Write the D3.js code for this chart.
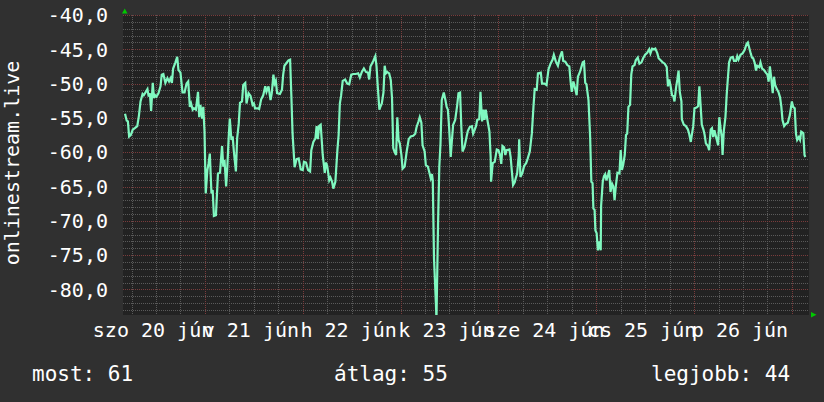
<!DOCTYPE html>
<html>
<head>
<meta charset="utf-8">
<script src="https://cdn.jsdelivr.net/npm/d3@7"></script>
<style>
html, body { margin: 0; padding: 0; background: #303030; }
svg { display: block; }
text { font-family: "DejaVu Sans Mono", monospace; font-size: 20px; fill: #ffffff; }
.legend text { font-size: 21px; }
</style>
</head>
<body>
<script>
// hours since jún 20 00:00, and the measured value at that moment
const hours = [
    4.4, 4.8, 5.1, 5.4, 5.8, 6.3, 6.8, 7.4, 7.8, 8.2, 8.7, 9.0, 9.5, 9.9, 10.2, 10.5, 10.8, 11.2, 11.5, 11.8,
    12.1, 12.6, 13.1, 13.4, 13.8, 14.3, 14.8, 15.2, 15.6, 15.9, 16.2, 16.7, 17.2, 17.5, 18.0, 18.5, 19.0, 19.5, 19.9, 20.3,
    20.6, 21.0, 21.3, 21.8, 22.3, 22.6, 22.9, 23.3, 23.6, 23.9, 24.2, 24.6, 24.9, 25.2, 25.6, 25.9, 26.2, 26.7, 27.2, 27.7,
    28.2, 28.5, 28.8, 29.2, 29.5, 29.8, 30.1, 30.5, 30.8, 31.1, 31.6, 31.9, 32.3, 32.6, 33.1, 33.4, 33.9, 34.2, 34.7, 35.2,
    35.7, 36.0, 36.3, 37.0, 37.3, 37.8, 38.3, 38.8, 39.1, 39.6, 40.1, 40.4, 40.8, 41.1, 41.4, 41.7, 42.4, 42.9, 43.2, 43.5,
    44.0, 44.5, 44.9, 45.2, 45.5, 46.0, 46.5, 47.0, 47.5, 48.0, 48.3, 48.8, 49.3, 49.8, 50.1, 50.6, 51.1, 51.4, 51.7, 52.0,
    52.4, 52.9, 53.4, 53.7, 54.0, 54.5, 54.8, 55.2, 55.5, 56.0, 56.5, 56.8, 57.1, 57.4, 57.8, 58.4, 58.9, 59.4, 59.9, 60.4,
    61.0, 61.6, 62.0, 62.5, 63.0, 63.5, 64.0, 64.3, 64.6, 65.3, 65.8, 66.1, 66.4, 66.8, 67.1, 67.4, 67.8, 68.1, 68.4, 68.7,
    69.2, 69.6, 69.9, 70.2, 70.5, 70.9, 71.2, 71.5, 71.8, 72.2, 72.5, 73.0, 73.5, 74.0, 74.5, 75.1, 75.6, 75.9, 76.4, 76.7,
    77.1, 77.4, 77.9, 78.2, 78.7, 79.0, 79.4, 79.7, 79.9, 80.2, 80.7, 80.8, 81.2, 81.5, 81.8, 82.1, 82.6, 83.0, 83.3, 83.6,
    83.9, 84.3, 84.6, 84.9, 85.4, 85.9, 86.2, 86.6, 86.9, 87.2, 87.7, 88.2, 88.5, 89.0, 89.5, 89.8, 90.2, 90.5, 90.8, 91.3,
    91.6, 92.0, 92.3, 92.6, 92.9, 93.3, 93.8, 94.1, 94.2, 94.6, 95.1, 95.6, 96.0, 96.4, 96.7, 97.0, 97.4, 97.7, 98.0, 98.7,
    99.0, 99.3, 99.6, 100.0, 100.3, 100.6, 101.0, 101.1, 101.4, 101.9, 102.3, 102.8, 103.2, 103.7, 104.2, 104.6, 104.9, 105.4, 105.7, 106.4,
    106.7, 107.3, 107.8, 108.3, 108.8, 109.3, 109.6, 110.1, 110.6, 111.1, 111.6, 111.9, 112.4, 112.9, 113.4, 113.7, 114.0, 114.4, 114.7, 115.2,
    115.5, 116.0, 116.7, 117.0, 117.3, 117.6, 118.1, 118.5, 118.8, 119.1, 119.3, 119.6, 119.8, 120.1, 120.4, 120.7, 121.1, 121.2, 121.6, 121.9,
    122.2, 122.5, 122.9, 123.2, 123.5, 123.9, 124.2, 124.5, 124.8, 125.2, 125.7, 126.0, 126.3, 126.6, 127.0, 127.3, 127.6, 127.9, 128.3, 128.6,
    128.9, 129.4, 129.7, 130.2, 130.6, 131.1, 131.5, 132.0, 132.5, 133.0, 133.3, 133.7, 134.2, 134.5, 135.0, 135.3, 135.8, 136.3, 136.8, 137.3,
    137.6, 137.9, 138.2, 138.6, 138.9, 139.2, 139.6, 139.9, 140.2, 140.5, 140.9, 141.0, 141.5, 142.0, 142.5, 142.8, 143.2, 143.5, 143.8, 144.1,
    144.6, 145.0, 145.3, 145.6, 145.9, 146.3, 146.6, 146.9, 147.4, 147.7, 148.1, 148.4, 148.7, 149.0, 149.5, 149.9, 150.2, 150.5, 150.8, 151.0,
    151.3, 151.7, 152.0, 152.3, 152.6, 153.0, 153.5, 153.8, 154.3, 154.6, 154.9, 155.4, 155.9, 156.4, 156.9, 157.2, 157.5, 157.9, 158.2, 158.5,
    158.9, 159.2, 159.5, 160.0, 160.3, 160.7, 161.1, 161.6, 162.0, 162.3, 162.6, 162.9, 163.3, 163.6, 163.9, 164.3, 164.7, 165.1, 165.4, 165.7,
    166.1, 166.5, 167.0, 167.5, 168.0, 168.3, 168.7, 169.0, 169.3, 169.7, 170.0, 170.3, 170.8, 171.1, 171.3
];
const values = [
    -54.4, -55.4, -55.5, -57.7, -57.5, -56.7, -56.5, -56.2, -54.7, -52.6, -51.5, -51.7, -51.2, -50.8, -51.9, -51.4, -54.0, -49.9, -52.1, -51.7,
    -51.9, -51.4, -50.4, -48.7, -48.6, -49.9, -49.2, -49.7, -49.2, -49.9, -47.8, -47.0, -46.1, -48.0, -48.4, -51.3, -51.3, -50.0, -49.7, -53.4,
    -52.9, -53.8, -53.6, -53.8, -51.2, -54.9, -53.1, -55.1, -53.4, -57.0, -66.0, -62.6, -61.6, -60.2, -66.0, -65.5, -69.3, -69.2, -63.1, -63.0,
    -59.1, -62.1, -61.1, -65.0, -62.1, -58.2, -55.1, -58.2, -57.7, -59.9, -62.8, -58.0, -55.8, -52.8, -52.6, -50.2, -49.9, -52.9, -51.4, -51.8,
    -53.1, -52.9, -53.6, -53.6, -53.7, -52.3, -51.7, -50.4, -51.2, -50.4, -52.4, -51.4, -48.7, -50.0, -49.6, -51.4, -51.5, -50.9, -48.7, -47.4,
    -47.0, -46.6, -46.5, -51.7, -57.3, -62.2, -61.0, -60.9, -62.5, -62.6, -61.4, -61.5, -62.6, -62.8, -59.7, -58.5, -58.0, -56.2, -58.1, -56.2,
    -56.0, -60.4, -63.0, -61.5, -62.0, -64.1, -63.7, -64.3, -65.3, -64.3, -59.7, -57.5, -52.9, -51.8, -49.6, -49.4, -50.0, -50.1, -48.7, -48.6,
    -48.6, -48.5, -49.1, -48.3, -47.8, -48.3, -48.4, -49.4, -47.5, -46.7, -46.0, -47.5, -50.4, -53.8, -53.3, -52.9, -51.3, -47.4, -48.5, -48.3,
    -48.5, -49.5, -52.1, -59.4, -59.9, -60.4, -54.9, -58.2, -58.7, -60.4, -62.4, -62.1, -59.9, -58.1, -57.7, -57.6, -57.3, -56.4, -55.5, -54.9,
    -55.7, -59.0, -59.9, -61.9, -62.1, -62.8, -63.8, -63.2, -64.1, -75.5, -82.5, -84.5, -70.3, -62.1, -58.7, -52.4, -51.3, -52.4, -53.4, -53.8,
    -56.3, -60.7, -58.2, -56.0, -55.3, -53.1, -51.4, -51.3, -56.3, -59.9, -59.2, -57.7, -56.9, -56.3, -56.2, -57.3, -56.7, -56.2, -55.3, -55.2,
    -51.2, -55.5, -53.8, -55.3, -53.8, -55.3, -57.0, -60.7, -64.3, -61.6, -61.4, -59.6, -59.7, -60.4, -61.7, -59.1, -59.3, -60.4, -59.7, -59.6,
    -60.7, -62.8, -64.8, -64.4, -63.7, -63.1, -60.4, -58.1, -63.6, -63.0, -62.0, -61.6, -60.9, -59.9, -57.3, -53.4, -50.8, -50.9, -48.5, -48.4,
    -50.0, -50.0, -50.2, -47.9, -47.1, -46.5, -45.8, -46.8, -47.4, -46.1, -45.3, -46.7, -46.8, -47.3, -47.5, -49.6, -51.2, -49.7, -50.4, -51.7,
    -49.0, -48.3, -46.9, -46.8, -49.9, -50.1, -52.4, -57.7, -64.3, -64.5, -68.2, -68.4, -71.4, -71.8, -74.3, -73.0, -74.3, -67.8, -64.3, -63.5,
    -63.2, -64.1, -63.3, -62.6, -65.8, -64.6, -65.0, -67.0, -65.0, -63.0, -63.1, -59.7, -62.6, -61.9, -60.4, -57.5, -57.3, -53.4, -53.1, -48.7,
    -47.5, -47.3, -46.6, -46.2, -47.1, -46.9, -46.3, -45.8, -45.5, -45.0, -45.6, -44.9, -45.0, -44.9, -45.6, -46.3, -46.6, -46.9, -47.1, -47.6,
    -50.4, -49.4, -50.2, -51.7, -51.8, -52.6, -50.5, -49.4, -48.1, -51.2, -52.6, -55.2, -56.0, -56.2, -56.7, -57.3, -58.5, -57.3, -56.2, -53.6,
    -53.5, -53.3, -50.4, -53.1, -56.0, -56.7, -57.5, -58.7, -59.1, -59.7, -56.7, -56.5, -57.8, -56.8, -58.0, -59.0, -54.9, -56.5, -57.8, -60.4,
    -56.9, -54.9, -51.7, -49.2, -46.9, -46.2, -46.1, -46.7, -46.7, -46.0, -46.5, -45.8, -45.6, -45.1, -44.2, -44.0, -44.7, -45.6, -46.2, -46.3,
    -47.0, -48.1, -47.4, -47.6, -46.9, -47.8, -48.0, -48.4, -48.7, -49.7, -47.5, -49.0, -51.4, -49.0, -50.2, -50.8, -51.2, -52.0, -53.3, -55.3,
    -56.2, -55.9, -55.7, -54.6, -52.6, -53.4, -53.6, -57.3, -58.2, -57.8, -58.2, -57.0, -57.2, -60.4, -60.7
];

const yTicks = [-40, -45, -50, -55, -60, -65, -70, -75, -80];
const dayHours = [12, 36, 60, 84, 108, 132, 156];
const dayLabels = ["szo 20 jún", "v 21 jún", "h 22 jún", "k 23 jún", "sze 24 jún", "cs 25 jún", "p 26 jún"];
const legendLabels = ["most: 61", "átlag: 55", "legjobb: 44"];
const yTitle = "onlinestream.live";

const width = 824, height = 402;
const plot = { left: 123, right: 809, top: 15, bottom: 315 };

const huLocale = d3.formatLocale({ decimal: ",", thousands: " ", grouping: [3], currency: ["", " Ft"], minus: "-" });
const fmt = huLocale.format(".1f");

const x = d3.scaleLinear().domain([3.9, 172.2]).range([plot.left, plot.right]);
const y = d3.scaleLinear().domain([-83.73, -40]).range([plot.bottom, plot.top]);

const svg = d3.select("body").append("svg")
    .attr("width", width)
    .attr("height", height);

svg.append("rect")
    .attr("width", width).attr("height", height)
    .attr("fill", "#303030");

svg.append("rect")
    .attr("x", plot.left).attr("y", plot.top)
    .attr("width", plot.right - plot.left).attr("height", plot.bottom - plot.top)
    .attr("fill", "#222222");

// Grid
const grid = svg.append("g").attr("shape-rendering", "crispEdges");

const minorY = d3.range(-83, -40).filter(v => v % 5 !== 0);
const majorY = d3.range(-80, -39, 5);
const minorX = d3.range(6, 172, 6).filter(h => h % 24 !== 0);
const majorX = d3.range(24, 172, 24);

grid.selectAll(".hmin").data(minorY).join("line")
    .attr("x1", plot.left).attr("x2", plot.right)
    .attr("y1", d => Math.round(y(d)) + 0.5).attr("y2", d => Math.round(y(d)) + 0.5)
    .attr("stroke", "#5a5a5a").attr("stroke-dasharray", "1,1");

grid.selectAll(".vmin").data(minorX).join("line")
    .attr("y1", plot.top).attr("y2", plot.bottom)
    .attr("x1", d => Math.round(x(d)) + 0.5).attr("x2", d => Math.round(x(d)) + 0.5)
    .attr("stroke", "#5a5a5a").attr("stroke-dasharray", "1,1");

grid.selectAll(".hmaj").data(majorY).join("line")
    .attr("x1", plot.left).attr("x2", plot.right)
    .attr("y1", d => Math.round(y(d)) + 0.5).attr("y2", d => Math.round(y(d)) + 0.5)
    .attr("stroke", "#7a3c3c").attr("stroke-dasharray", "1,1");

grid.selectAll(".vmaj").data(majorX).join("line")
    .attr("y1", plot.top).attr("y2", plot.bottom)
    .attr("x1", d => Math.round(x(d)) + 0.5).attr("x2", d => Math.round(x(d)) + 0.5)
    .attr("stroke", "#7a3c3c").attr("stroke-dasharray", "1,1");

// Line
svg.append("clipPath").attr("id", "clip")
    .append("rect")
    .attr("x", plot.left).attr("y", plot.top)
    .attr("width", plot.right - plot.left).attr("height", plot.bottom - plot.top);

const series = hours.map((h, i) => ({ h: h, v: values[i] }));
const line = d3.line()
    .x(d => x(d.h))
    .y(d => y(d.v));

svg.append("path")
    .datum(series)
    .attr("clip-path", "url(#clip)")
    .attr("d", line)
    .attr("fill", "none")
    .attr("stroke", "#80f8c0")
    .attr("stroke-width", 2.2)
    .attr("stroke-linejoin", "miter");

// Axis arrows
svg.append("path")
    .attr("d", "M122,13.5 L127.5,13.5 L124.75,8.5 Z")
    .attr("fill", "#00c800");
svg.append("path")
    .attr("d", "M811,312 L811,317.5 L816.5,314.75 Z")
    .attr("fill", "#00c800");

// Y tick labels
svg.append("g").selectAll("text").data(yTicks).join("text")
    .attr("x", 108)
    .attr("y", d => y(d))
    .attr("dy", "0.36em")
    .attr("text-anchor", "end")
    .text(d => fmt(d));

// X labels (day names, centred at noon)
svg.append("g").selectAll("text").data(dayHours).join("text")
    .attr("x", d => x(d) - 3)
    .attr("y", 337)
    .attr("text-anchor", "middle")
    .text((d, i) => dayLabels[i]);

// Y title
svg.append("text")
    .attr("transform", "translate(18.5," + ((plot.top + plot.bottom) / 2 - 2) + ") rotate(-90)")
    .attr("text-anchor", "middle")
    .text(yTitle);

// Legend
const legendX = [32, 334, 651];
svg.append("g").attr("class", "legend").selectAll("text").data(legendLabels).join("text")
    .attr("x", (d, i) => legendX[i])
    .attr("y", 381)
    .text(d => d);
</script>
</body>
</html>
